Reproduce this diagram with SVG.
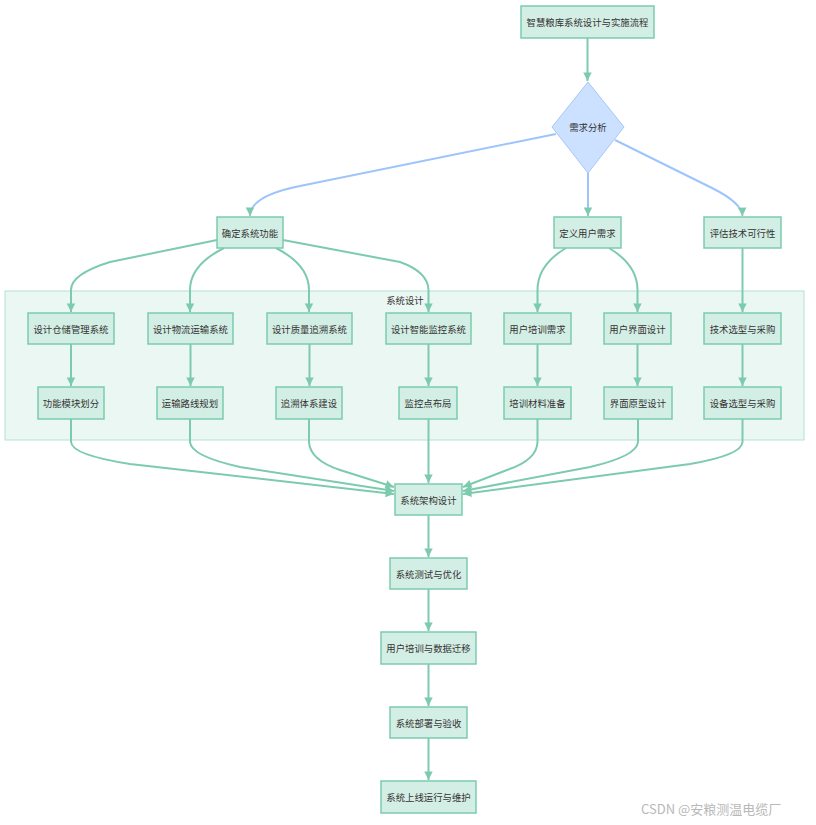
<svg xmlns="http://www.w3.org/2000/svg" width="816" height="825" viewBox="0 0 816 825">
<style>
.n rect{fill:#d3eee4;stroke:#7ccbae;stroke-width:1.5}
text{font-family:"Noto Sans CJK SC","Noto Sans",sans-serif;font-size:9.4px;fill:#333;text-anchor:middle;dominant-baseline:central}
.e path{fill:none;stroke:#7ccbae;stroke-width:2}
.e path.b{stroke:#9ec5fb}
.wm{font-size:13px;fill:#b8b8b8;text-anchor:start;dominant-baseline:auto}
</style>
<defs>
<marker id="ah" viewBox="0 0 10 10" refX="10" refY="5" markerWidth="6" markerHeight="6" markerUnits="userSpaceOnUse" orient="auto" style="overflow:visible">
<path d="M0,0 L10,5 L0,10 z" fill="#7ccbae" transform="scale(1.4) translate(-2.9,-1.4)"/>
</marker>
</defs>
<rect width="816" height="825" fill="#fff"/>
<g id="cluster">
<rect x="5" y="291" width="799" height="149" fill="#ebf7f2" stroke="#b2e2cf" stroke-width="1"/>
<text x="405" y="300">系统设计</text>
</g>
<g class="e" id="edges">
<path d="M587.5,38 V81" marker-end="url(#ah)"/>
<path class="b" d="M556,134 L300,186 Q250,196 250,216" marker-end="url(#ah)"/>
<path class="b" d="M588,173 V216" marker-end="url(#ah)"/>
<path class="b" d="M615,140 L712,188 Q742,203 742.5,216" marker-end="url(#ah)"/>
<path d="M217,240 L110,262 Q71,274 71,290 V312" marker-end="url(#ah)"/>
<path d="M224,248 Q190,265 190,290 V312" marker-end="url(#ah)"/>
<path d="M276,248 Q309,265 309,290 V312" marker-end="url(#ah)"/>
<path d="M283,240 L400,262 Q428,272 428.5,290 V312" marker-end="url(#ah)"/>
<path d="M566,248 Q537.5,265 537.5,290 V312" marker-end="url(#ah)"/>
<path d="M609,248 Q637.5,265 637.5,290 V312" marker-end="url(#ah)"/>
<path d="M742.5,248 V312" marker-end="url(#ah)"/>
<path d="M71,344 V386" marker-end="url(#ah)"/>
<path d="M190.5,344 V386" marker-end="url(#ah)"/>
<path d="M309.5,344 V386" marker-end="url(#ah)"/>
<path d="M428.5,344 V386" marker-end="url(#ah)"/>
<path d="M537.5,344 V386" marker-end="url(#ah)"/>
<path d="M637.5,344 V386" marker-end="url(#ah)"/>
<path d="M742.5,344 V386" marker-end="url(#ah)"/>
<path d="M71,419 V442 Q72,455 130,464 L394,494" marker-end="url(#ah)"/>
<path d="M190,419 V442 Q191,456 240,467 L394,491" marker-end="url(#ah)"/>
<path d="M309,419 V442 Q310,460 340,470 L394,487" marker-end="url(#ah)"/>
<path d="M428.5,419 V483" marker-end="url(#ah)"/>
<path d="M537.5,419 V442 Q537,460 507,470 L463,487" marker-end="url(#ah)"/>
<path d="M638,419 V442 Q637,456 590,467 L463,491" marker-end="url(#ah)"/>
<path d="M742.5,419 V442 Q742,455 690,464 L463,494" marker-end="url(#ah)"/>
<path d="M428.5,515 V557" marker-end="url(#ah)"/>
<path d="M428.5,589 V631" marker-end="url(#ah)"/>
<path d="M428.5,664 V706" marker-end="url(#ah)"/>
<path d="M428.5,738 V780" marker-end="url(#ah)"/>
</g>
<g class="n" id="start"><rect x="521" y="6" width="133" height="32"/><text x="587.5" y="22">智慧粮库系统设计与实施流程</text></g>
<g id="req"><polygon points="588,82 624,127 588,173 552,127" fill="#cce0ff" stroke="#a6c8f8" stroke-width="1"/><text x="588" y="127">需求分析</text></g>
<g class="n" id="func"><rect x="217" y="217" width="66" height="31"/><text x="250" y="232.5">确定系统功能</text></g>
<g class="n" id="user"><rect x="554" y="217" width="67" height="31"/><text x="587.5" y="232.5">定义用户需求</text></g>
<g class="n" id="feas"><rect x="704" y="217" width="77" height="31"/><text x="742.5" y="232.5">评估技术可行性</text></g>
<g class="n" id="wms"><rect x="28" y="313" width="86" height="31"/><text x="71" y="328.5">设计仓储管理系统</text></g>
<g class="n" id="tms"><rect x="148" y="313" width="85" height="31"/><text x="190.5" y="328.5">设计物流运输系统</text></g>
<g class="n" id="qts"><rect x="267" y="313" width="85" height="31"/><text x="309.5" y="328.5">设计质量追溯系统</text></g>
<g class="n" id="ims"><rect x="386" y="313" width="85" height="31"/><text x="428.5" y="328.5">设计智能监控系统</text></g>
<g class="n" id="utr"><rect x="504" y="313" width="67" height="31"/><text x="537.5" y="328.5">用户培训需求</text></g>
<g class="n" id="uid"><rect x="604" y="313" width="67" height="31"/><text x="637.5" y="328.5">用户界面设计</text></g>
<g class="n" id="tech"><rect x="704" y="313" width="77" height="31"/><text x="742.5" y="328.5">技术选型与采购</text></g>
<g class="n" id="mod"><rect x="38" y="387" width="66" height="32"/><text x="71" y="403">功能模块划分</text></g>
<g class="n" id="route"><rect x="157" y="387" width="66" height="32"/><text x="190" y="403">运输路线规划</text></g>
<g class="n" id="trace"><rect x="276" y="387" width="66" height="32"/><text x="309" y="403">追溯体系建设</text></g>
<g class="n" id="mon"><rect x="399" y="387" width="58" height="32"/><text x="428" y="403">监控点布局</text></g>
<g class="n" id="mat"><rect x="504" y="387" width="67" height="32"/><text x="537.5" y="403">培训材料准备</text></g>
<g class="n" id="proto"><rect x="604" y="387" width="68" height="32"/><text x="638" y="403">界面原型设计</text></g>
<g class="n" id="equip"><rect x="704" y="387" width="77" height="32"/><text x="742.5" y="403">设备选型与采购</text></g>
<g class="n" id="arch"><rect x="395" y="484" width="67" height="31"/><text x="428.5" y="499.5">系统架构设计</text></g>
<g class="n" id="test"><rect x="390" y="558" width="77" height="31"/><text x="428.5" y="573.5">系统测试与优化</text></g>
<g class="n" id="train"><rect x="381" y="632" width="95" height="32"/><text x="428.5" y="648">用户培训与数据迁移</text></g>
<g class="n" id="deploy"><rect x="390" y="707" width="77" height="31"/><text x="428.5" y="722.5">系统部署与验收</text></g>
<g class="n" id="ops"><rect x="381" y="781" width="95" height="32"/><text x="428.5" y="797">系统上线运行与维护</text></g>
<text class="wm" x="641" y="814">CSDN @安粮测温电缆厂</text>
</svg>
